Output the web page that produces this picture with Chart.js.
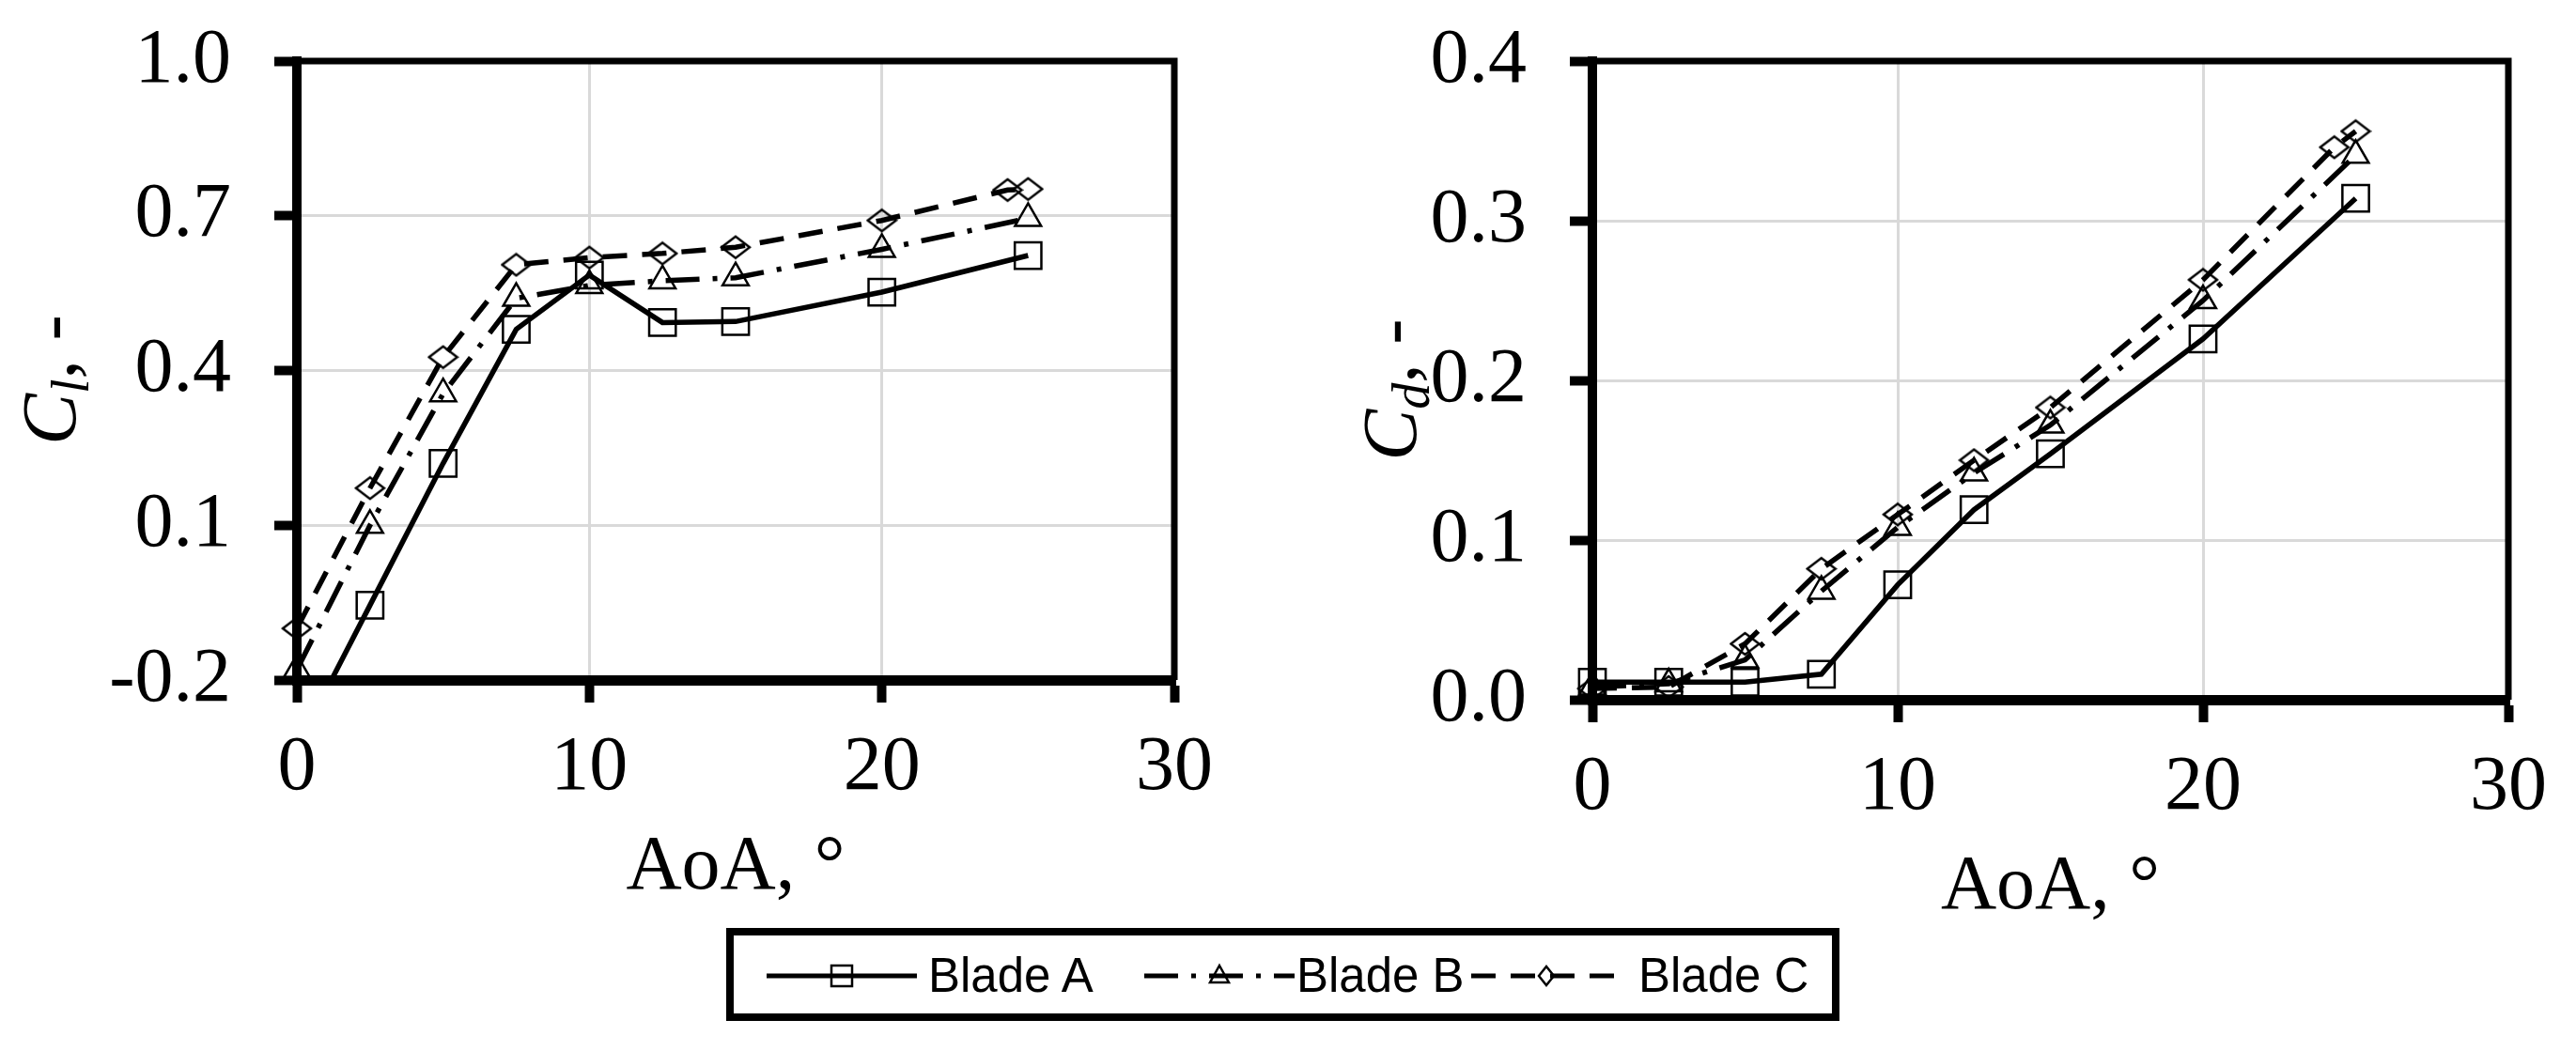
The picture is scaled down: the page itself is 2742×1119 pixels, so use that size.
<!DOCTYPE html>
<html>
<head>
<meta charset="utf-8">
<script src="https://cdn.jsdelivr.net/npm/chart.js@4.4.1/dist/chart.umd.min.js"></script>
<style>
    html, body { margin: 0; padding: 0; background: #fff; }
    #page { position: relative; width: 2742px; height: 1119px; overflow: hidden; background: #fff; }
    #clChart { position: absolute; left: 0; top: 0; }
    #cdChart { position: absolute; left: 1450px; top: 0; }
    #legend {
        position: absolute; left: 773px; top: 988px; width: 1185px; height: 99px;
        box-sizing: border-box; border: 8px solid #000; background: #fff;
        font-family: "Liberation Sans", Arial, sans-serif; font-size: 51px; color: #000;
    }
    #legend canvas { position: absolute; top: 23px; }
    #legend span { position: absolute; top: 18px; line-height: 50px; white-space: nowrap; }
</style>
</head>
<body>
<div id="page">
    <canvas id="clChart" width="1450" height="1010"></canvas>
    <canvas id="cdChart" width="1292" height="1010"></canvas>
    <div id="legend"></div>
</div>
<script>
// angle of attack (deg), Blade C has one extra point near 25
const aoa = [0, 2.5, 5, 7.5, 10, 12.5, 15, 20, 25];
const aoaC = [0, 2.5, 5, 7.5, 10, 12.5, 15, 20, 24.3, 25];

// lift coefficient
const clA = [-0.33, -0.055, 0.22, 0.48, 0.585, 0.493, 0.495, 0.552, 0.623];
const clB = [-0.18, 0.10, 0.355, 0.54, 0.565, 0.574, 0.58, 0.635, 0.695];
const clC = [-0.10, 0.172, 0.426, 0.605, 0.619, 0.627, 0.639, 0.691, 0.75, 0.752];

// drag coefficient
const cdA = [0.011, 0.011, 0.011, 0.016, 0.072, 0.119, 0.154, 0.226, 0.314];
const cdB = [0.008, 0.010, 0.025, 0.068, 0.108, 0.142, 0.172, 0.25, 0.341];
const cdC = [0.007, 0.008, 0.035, 0.082, 0.116, 0.150, 0.183, 0.263, 0.346, 0.356];

const blades = ["Blade A", "Blade B", "Blade C"];
const aoaTicks = [0, 10, 20, 30];
const clTicks = [-0.2, 0.1, 0.4, 0.7, 1.0];
const cdTicks = [0.0, 0.1, 0.2, 0.3, 0.4];

const dashB = [36, 14, 5, 14];
const dashC = [26, 16];

Chart.defaults.color = "#000";
const serif = { family: "Liberation Serif", size: 82 };

// hollow diamond marker, a bit wider than tall
const diamond = document.createElement("canvas");
diamond.width = 34;
diamond.height = 27;
let dg = diamond.getContext("2d");
dg.strokeStyle = "#000";
dg.lineWidth = 2.5;
dg.beginPath();
dg.moveTo(2, 13.5); dg.lineTo(17, 2); dg.lineTo(32, 13.5); dg.lineTo(17, 25);
dg.closePath();
dg.stroke();

const pts = (xs, ys) => xs.map((x, i) => ({ x: x, y: ys[i] }));

function makeSets(a, b, c) {
    return [
        { label: blades[0], data: pts(aoa, a), borderDash: [], pointStyle: "rect", pointRadius: 20 },
        { label: blades[1], data: pts(aoa, b), borderDash: dashB, pointStyle: "triangle", pointRadius: 16 },
        { label: blades[2], data: pts(aoaC, c), borderDash: dashC, pointStyle: diamond, pointRadius: 13 }
    ].map(d => Object.assign({
        borderColor: "#000",
        borderWidth: 5.5,
        pointBorderColor: "#000",
        pointBackgroundColor: "rgba(0,0,0,0)",
        pointBorderWidth: 2.5,
        tension: 0,
        clip: { left: 30, right: 30, top: 0, bottom: 0 }
    }, d));
}

// top and right side of the plot box
const frame = {
    id: "frame",
    beforeDatasetsDraw(chart) {
        const { ctx, chartArea: a } = chart;
        ctx.save();
        ctx.strokeStyle = "#000";
        ctx.lineWidth = 7;
        ctx.beginPath();
        ctx.moveTo(a.left, a.top);
        ctx.lineTo(a.right, a.top);
        ctx.lineTo(a.right, a.bottom);
        ctx.stroke();
        ctx.restore();
    }
};

// rotated y title with italic C and subscript
const yTitle = {
    id: "yTitle",
    afterDraw(chart, args, opts) {
        const { ctx, chartArea } = chart;
        const cy = (chartArea.top + chartArea.bottom) / 2 + opts.shift;
        const parts = [
            { t: "C", f: 'italic 82px "Liberation Serif"', dy: 0 },
            { t: opts.sub, f: 'italic 56px "Liberation Serif"', dy: 14 },
            { t: ", -", f: '82px "Liberation Serif"', dy: 0 }
        ];
        ctx.save();
        let total = 0;
        parts.forEach(p => { ctx.font = p.f; p.w = ctx.measureText(p.t).width; total += p.w; });
        ctx.translate(opts.x, cy);
        ctx.rotate(-Math.PI / 2);
        ctx.fillStyle = "#000";
        ctx.textBaseline = "alphabetic";
        let x = -total / 2;
        parts.forEach(p => { ctx.font = p.f; ctx.fillText(p.t, x, p.dy); x += p.w; });
        ctx.restore();
    }
};

const gridOpts = { color: "#d9d9d9", lineWidth: 3, tickColor: "#000", tickWidth: 10, tickLength: 24 };

function makeOptions(yTicks, yWidth, xHeight, padRight, titlePad, titleX, sub) {
    return {
        responsive: false,
        animation: false,
        layout: { padding: { top: 65, right: padRight, left: 0, bottom: 0 } },
        plugins: {
            legend: { display: false },
            tooltip: { enabled: false },
            yTitle: { x: titleX, sub: sub, shift: 10 }
        },
        scales: {
            x: {
                type: "linear",
                min: aoaTicks[0],
                max: aoaTicks[aoaTicks.length - 1],
                afterBuildTicks: s => { s.ticks = aoaTicks.map(v => ({ value: v })); },
                afterFit: s => { s.height = xHeight; },
                grid: gridOpts,
                border: { color: "#000", width: 11 },
                ticks: { font: serif, color: "#000", padding: 21, maxRotation: 0, callback: v => String(v) },
                title: { display: true, text: "AoA, °", font: serif, color: "#000", padding: { top: 0, bottom: titlePad } }
            },
            y: {
                type: "linear",
                min: yTicks[0],
                max: yTicks[yTicks.length - 1],
                afterBuildTicks: s => { s.ticks = yTicks.map(v => ({ value: v })); },
                // fixed width, and no extra room above for the top label
                afterFit: s => { s.width = yWidth; s.paddingTop = 0; s.paddingBottom = 0; },
                grid: gridOpts,
                border: { color: "#000", width: 10 },
                ticks: { font: serif, color: "#000", padding: 46, callback: v => v.toFixed(1) }
            }
        }
    };
}

// Lift chart
new Chart(document.getElementById("clChart"), {
    type: "line",
    data: { datasets: makeSets(clA, clB, clC) },
    options: makeOptions(clTicks, 316, 286, 200, 36, 80, "l"),
    plugins: [frame, yTitle]
});

// Drag chart
new Chart(document.getElementById("cdChart"), {
    type: "line",
    data: { datasets: makeSets(cdA, cdB, cdC) },
    options: makeOptions(cdTicks, 245, 265, 72, 15, 57, "d"),
    plugins: [frame, yTitle]
});

// legend shared by both charts
function drawSample(cv, dash, marker) {
    const g = cv.getContext("2d");
    const y = cv.height / 2;
    const cx = cv.width / 2;
    g.strokeStyle = "#000";
    g.lineWidth = 5;
    g.setLineDash(dash);
    g.beginPath();
    g.moveTo(0, y);
    g.lineTo(cv.width, y);
    g.stroke();
    g.setLineDash([]);
    g.lineWidth = 2.5;
    g.beginPath();
    if (marker === "rect") {
        g.rect(cx - 11, y - 11, 22, 22);
    } else if (marker === "triangle") {
        g.moveTo(cx, y - 11); g.lineTo(cx + 10, y + 7); g.lineTo(cx - 10, y + 7); g.closePath();
    } else {
        g.moveTo(cx - 8, y); g.lineTo(cx, y - 10); g.lineTo(cx + 8, y); g.lineTo(cx, y + 10); g.closePath();
    }
    g.stroke();
}

const legend = document.getElementById("legend");
const items = [
    { dash: [], marker: "rect", at: 35, textAt: 207 },
    { dash: dashB, marker: "triangle", at: 437, textAt: 599 },
    { dash: dashC, marker: "diamond", at: 785, textAt: 963 }
];
items.forEach((it, i) => {
    const cv = document.createElement("canvas");
    cv.width = 160;
    cv.height = 40;
    cv.style.left = it.at + "px";
    legend.appendChild(cv);
    drawSample(cv, it.dash, it.marker);
    const sp = document.createElement("span");
    sp.textContent = blades[i];
    sp.style.left = it.textAt + "px";
    legend.appendChild(sp);
});
</script>
</body>
</html>
